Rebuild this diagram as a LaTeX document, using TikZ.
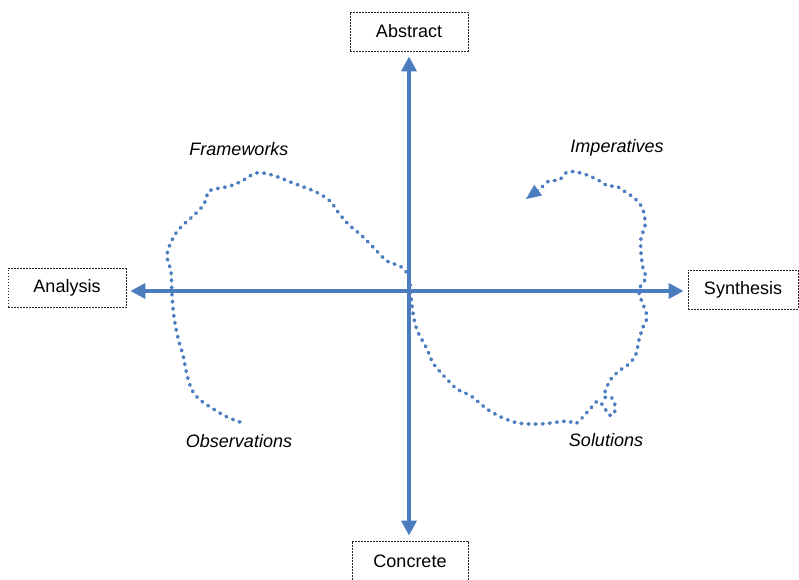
\documentclass[tikz,border=0pt]{standalone}
\usepackage{fontspec}
\setmainfont{Liberation Sans}
\usetikzlibrary{arrows.meta}
\definecolor{axblue}{RGB}{74,124,190}
\begin{document}
\begin{tikzpicture}[x=1pt,y=-1pt,
  lbox/.style={draw=black!85,line width=0.8pt,dash pattern=on 1.8pt off 1.2pt,minimum width=118pt,minimum height=39pt,inner sep=0pt,font=\fontsize{18}{20}\selectfont},
  lbl/.style={font=\fontsize{18}{20}\selectfont\itshape,inner sep=0pt},
  axis/.style={axblue,line width=3.6pt,{Triangle[length=15pt,width=15pt]}-{Triangle[length=15pt,width=15pt]}},
  route/.style={axblue,line width=3.6pt,line cap=round,dash pattern=on 0.9pt off 6.2pt}]
\useasboundingbox (0,0) rectangle (799,579);
\node[lbox] (abs) at (409,31.5) {Abstract};
\node[lbox] (ana) at (67,288) {Analysis};
\node[lbox,minimum width=110pt] (syn) at (743,289.5) {Synthesis};
\node[lbox,minimum width=116pt,minimum height=40pt] (con) at (410,561) {Concrete};
\draw[axis,shorten <=4pt,shorten >=4pt] (ana.east |- 0,291) -- (syn.west |- 0,291);
\draw[axis,shorten <=5pt,shorten >=5pt] (abs.south -| 409,0) -- (con.north -| 409,0);
\node[lbl] (fw) at (239,149) {Frameworks};
\node[lbl] (imp) at (617,148) {Imperatives};
\node[lbl] (obs) at (239,441) {Observations};
\node[lbl] (sol) at (606,440) {Solutions};
\draw[route] plot[smooth,tension=0.55] coordinates {
 (240,422) (227,417) (215,410) (200,400) (192,390) (187,375) (183,355) (178,338) (174,317) (172,295) (171,272) (167,255) (173,238) (181,227) (192,217) (201,208) (206,200) (208,192) (215,189) (230,186) (242,181) (256,173) (272,175) (293,183) (316,192) (330,201) (338,212) (348,224) (361,235) (374,248) (387,261) (400,266) (407,273) (410,283) (411,296) (413,313) (417,330) (427,349) (433,363) (444,376) (457,389) (471,396) (487,409) (501,417) (518,423) (540,424) (558,422) (569,421) (575,424) (582,418) (590,409) (598,401) (604,407) (609,415) (614,414) (615,405) (611,397) (604,397) (606,389) (611,379) (619,371) (630,363) (636,354) (639,340) (643,327) (647,317) (643,304) (639,294) (641,285) (646,278) (643,268) (641,253) (641,238) (645,226) (644,213) (640,204) (633,197) (624,191) (616,186) (608,186) (598,180) (587,175) (576,172) (567,172) (559,180) (549,181) (540,189) (536,192)};
\draw[axblue,line width=1pt,-{Triangle[length=15pt,width=13pt]}] (537,191) -- (526,199);
\end{tikzpicture}
\end{document}
